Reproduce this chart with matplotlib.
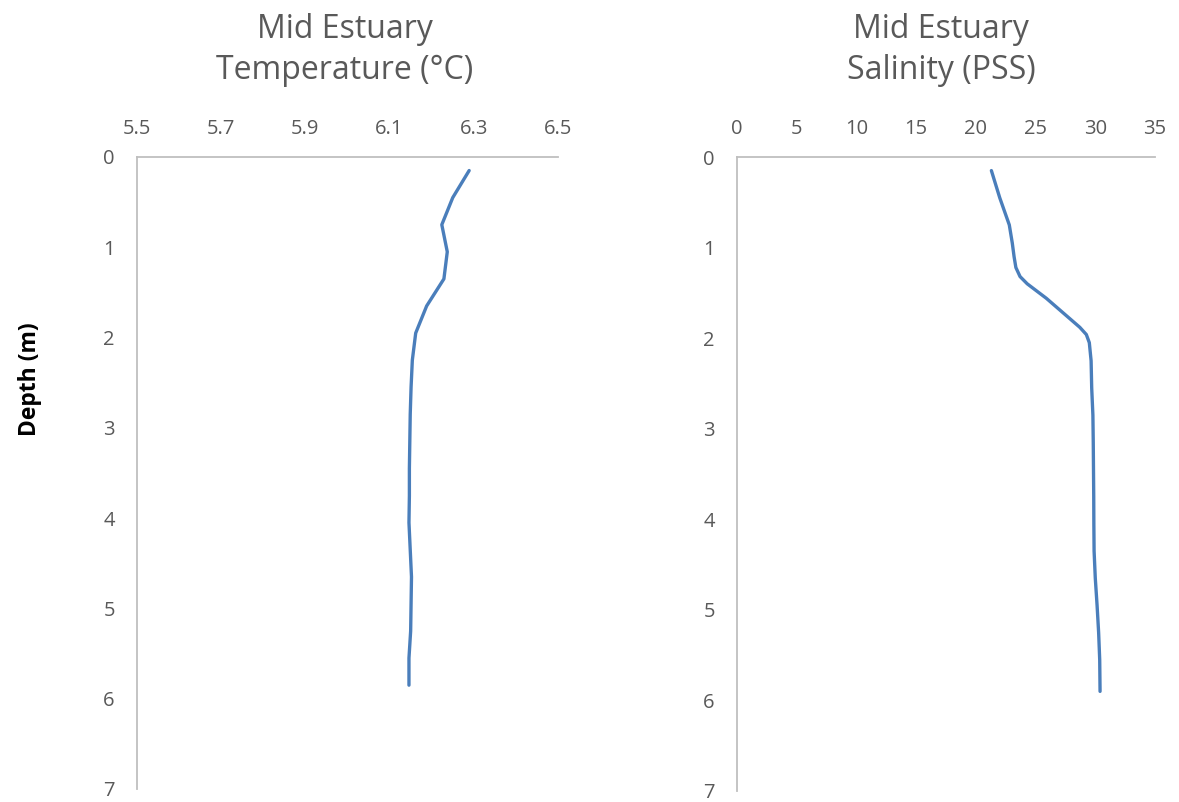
import matplotlib
matplotlib.use("Agg")
import matplotlib.pyplot as plt

# ---- data ----
temp_depth = [0.15, 0.45, 0.75, 1.05, 1.35, 1.65, 1.95, 2.25, 2.55, 2.85, 3.15,
              3.45, 3.75, 4.05, 4.35, 4.65, 4.95, 5.25, 5.55, 5.85]
temperature = [6.289, 6.250, 6.224, 6.237, 6.229, 6.188, 6.162, 6.154, 6.151, 6.149,
               6.148, 6.147, 6.147, 6.146, 6.149, 6.152, 6.151, 6.150, 6.146, 6.146]

sal_depth = [0.15, 0.45, 0.75, 0.95, 1.10, 1.22, 1.32, 1.40, 1.48, 1.56, 1.64, 1.72,
             1.80, 1.88, 1.96, 2.05, 2.25, 2.55, 2.85, 3.15, 3.45, 3.75, 4.05, 4.35,
             4.65, 4.95, 5.25, 5.55, 5.90]
salinity = [21.3, 22.0, 22.8, 23.05, 23.2, 23.35, 23.7, 24.3, 25.1, 25.9, 26.6, 27.3,
            28.0, 28.7, 29.25, 29.5, 29.65, 29.7, 29.8, 29.83, 29.85, 29.87, 29.88,
            29.9, 30.0, 30.15, 30.28, 30.37, 30.4]

temp_ticks = [5.5, 5.7, 5.9, 6.1, 6.3, 6.5]
sal_ticks = [0, 5, 10, 15, 20, 25, 30, 35]
depth_ticks = [0, 1, 2, 3, 4, 5, 6, 7]

titles = ["Mid Estuary\nTemperature (°C)", "Mid Estuary\nSalinity (PSS)"]
ylabel = "Depth (m)"

# ---- style ----
plt.rcParams['font.family'] = ['Open Sans', 'DejaVu Sans']
text_col = '#595959'
axis_col = '#bfbfbf'
line_col = '#4a7ebb'

fig = plt.figure(figsize=(11.79, 8.02), dpi=100)
W, H = 1179, 802

def make_ax(x0, x1, y0, y1):
    return fig.add_axes([x0 / W, 1 - y1 / H, (x1 - x0) / W, (y1 - y0) / H])

ax1 = make_ax(137, 558, 157, 789)
ax2 = make_ax(737, 1155, 157, 791)

for ax, xs, ys, xt, xlim in [
        (ax1, temperature, temp_depth, temp_ticks, (5.5, 6.5)),
        (ax2, salinity, sal_depth, sal_ticks, (0, 35))]:
    ax.plot(xs, ys, color=line_col, lw=2.4, solid_capstyle='round', solid_joinstyle='round')
    ax.set_xlim(*xlim)
    ax.set_ylim(7, 0)
    ax.set_xticks(xt)
    ax.set_xticklabels([f"{v:g}" if isinstance(v, int) else f"{v:.1f}" for v in xt])
    ax.set_yticks(depth_ticks)
    ax.xaxis.tick_top()
    ax.tick_params(axis='both', length=0, labelsize=14.5, colors=text_col)
    ax.tick_params(axis='x', pad=13)
    ax.tick_params(axis='y', pad=16)
    for s in ['right', 'bottom']:
        ax.spines[s].set_visible(False)
    for s in ['top', 'left']:
        ax.spines[s].set_color(axis_col)
        ax.spines[s].set_linewidth(1.3)
    ax.set_facecolor('white')

fig.text(345 / W, 1 - 50 / H, titles[0], ha='center', va='center',
         fontsize=23, color=text_col, linespacing=1.35)
fig.text(941 / W, 1 - 50 / H, titles[1], ha='center', va='center',
         fontsize=23, color=text_col, linespacing=1.35)
fig.text(30 / W, 1 - 379 / H, ylabel, ha='center', va='center', rotation=90,
         fontsize=16.5, fontweight='bold', color='black')

fig.savefig("out.png", dpi=100, facecolor='white')
